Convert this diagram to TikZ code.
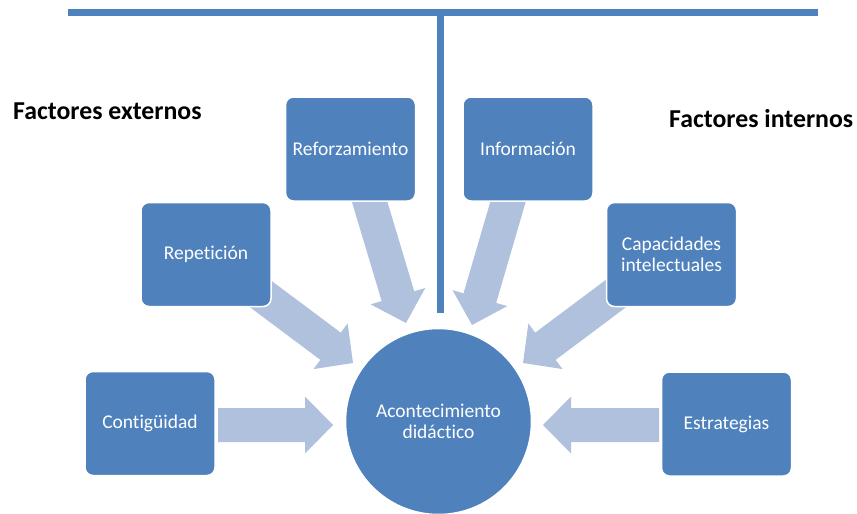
\documentclass[tikz,border=0pt]{standalone}
\usepackage{fontspec}
\setmainfont{Carlito}[Ligatures=NoCommon]
\usetikzlibrary{calc}
\definecolor{boxc}{RGB}{79,129,189}
\definecolor{arrowc}{RGB}{176,193,221}
\tikzset{
  boxnode/.style={rectangle, rounded corners=8pt, fill=boxc, draw=white, line width=1.5pt,
    minimum width=130pt, minimum height=104pt, text=white, align=center, inner sep=2pt,
    font=\fontsize{19.5}{21}\selectfont},
  hubnode/.style={circle, fill=boxc, draw=white, line width=1.5pt, minimum size=186pt,
    text=white, align=center, font=\fontsize{19.5}{21.5}\selectfont},
  titlenode/.style={inner sep=0pt, anchor=base west, font=\bfseries\fontsize{25.8}{28}\selectfont},
  rule/.style={draw=boxc, line width=7pt}
}
% block arrow from #1 to tip #2
\newcommand\blockarr[2]{%
  \coordinate (hb) at ($(#2)!28pt!(#1)$);
  \fill[arrowc] ($(#1)!17pt!90:(#2)$) -- ($(hb)!17pt!90:(#2)$) -- ($(hb)!28.5pt!90:(#2)$)
    -- (#2) -- ($(hb)!28.5pt!-90:(#2)$) -- ($(hb)!17pt!-90:(#2)$) -- ($(#1)!17pt!-90:(#2)$) -- cycle;
}
\begin{document}
\begin{tikzpicture}[x=1pt,y=-1pt]
\useasboundingbox (0,0) rectangle (857,514);
% rules
\coordinate (tl) at (68,12.5);
\coordinate (tr) at (818,12.5);
\coordinate (tm) at (440.5,12.5);
\coordinate (vb) at (440.5,313);
\draw[rule] (tl) -- (tr);
\draw[rule] (tm) -- (vb);
% titles
\node[titlenode] (fext) at (13,119) {Factores externos};
\node[titlenode] (fint) at (669,127) {Factores internos};
% arrow tips and starts
\coordinate (t1) at (406,323);  \coordinate (s1) at (367,193);
\coordinate (t2) at (472,325);  \coordinate (s2) at (510,195);
\coordinate (t3) at (353,363);  \coordinate (s3) at (258,292);
\coordinate (t4) at (523,363);  \coordinate (s4) at (618,292);
\coordinate (t5) at (333,425);  \coordinate (s5) at (218,425);
\coordinate (t6) at (543,425);  \coordinate (s6) at (659,425);
\blockarr{s1}{t1}
\blockarr{s2}{t2}
\blockarr{s3}{t3}
\blockarr{s4}{t4}
\blockarr{s5}{t5}
\blockarr{s6}{t6}
% boxes
\node[boxnode] (refo) at (350.5,149) {Reforzamiento};
\node[boxnode] (info) at (528,149) {Información};
\node[boxnode] (repe) at (206,254.5) {Repetición};
\node[boxnode] (capa) at (671.5,254.5) {Capacidades\\intelectuales};
\node[boxnode] (cont) at (150,423.5) {Contigüidad};
\node[boxnode] (estr) at (726.5,424) {Estrategias};
\node[hubnode] (hub) at (438.5,421.5) {Acontecimiento\\didáctico};
\end{tikzpicture}
\end{document}
